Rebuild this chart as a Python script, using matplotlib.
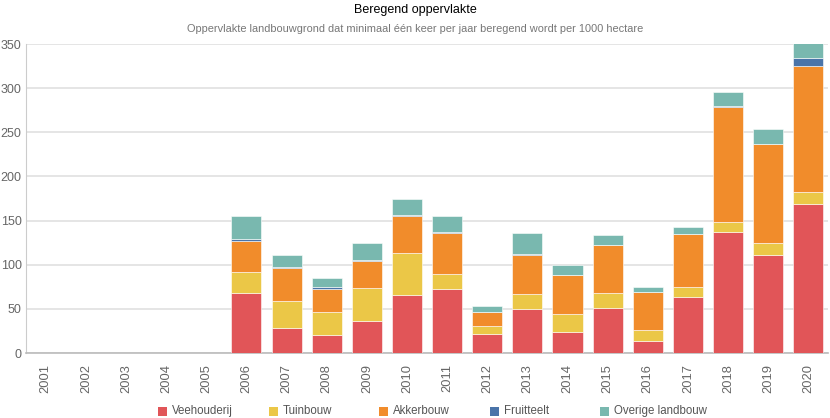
import numpy as np
import matplotlib.pyplot as plt
from matplotlib.patches import Rectangle

# Data (x 1000 ha)
years = [str(y) for y in range(2001, 2021)]
veehouderij = [0, 0, 0, 0, 0, 68, 28, 20, 36, 66, 72.5, 21, 50, 24, 51, 13.6, 64, 137, 111, 168.5]
tuinbouw = [0, 0, 0, 0, 0, 24, 31, 27, 38, 47, 17.5, 10, 17, 20, 17, 12.4, 11, 11, 13.6, 14]
akkerbouw = [0, 0, 0, 0, 0, 35, 37, 26, 30, 42, 46, 15, 44, 44, 54, 42.7, 60, 131, 112, 142.6]
fruitteelt = [0, 0, 0, 0, 0, 2, 1, 1.5, 1.5, 1.5, 1.5, 0.5, 1, 0.5, 0.3, 0.3, 0.3, 0.5, 0.5, 9.5]
overig = [0, 0, 0, 0, 0, 26, 14, 10, 19, 17.5, 18, 7, 23.5, 11.5, 11.6, 6, 7, 16.5, 17, 19.2]

series = [
    ('Veehouderij', veehouderij, '#E15558'),
    ('Tuinbouw', tuinbouw, '#EBC747'),
    ('Akkerbouw', akkerbouw, '#F18C2B'),
    ('Fruitteelt', fruitteelt, '#4A74A9'),
    ('Overige landbouw', overig, '#79B8AF'),
]

plt.rcParams['font.family'] = ['Liberation Sans', 'DejaVu Sans']

W, H = 830, 418
fig = plt.figure(figsize=(W / 100, H / 100), dpi=100)
ax = fig.add_axes([0.031, 0.1555, 0.967, 0.7392])

x = np.arange(len(years))
bottom = np.zeros(len(years))
for name, vals, color in series:
    vals = np.array(vals, dtype=float)
    ax.bar(x, vals, width=0.75, bottom=bottom, color=color,
           edgecolor='#ffffff', linewidth=0.4, zorder=3)
    bottom += vals

ax.set_xlim(-0.5, len(years) - 0.5)
ax.set_ylim(0, 350)
ax.set_yticks(np.arange(0, 351, 50))
ax.yaxis.grid(True, color='#e3e3e3', linewidth=1.3, zorder=0)
ax.set_axisbelow(True)

ax.set_xticks(x)
ax.set_xticklabels(years, rotation=90)
ax.tick_params(axis='x', length=0, pad=8, labelsize=9.3, labelcolor='#666666')
ax.tick_params(axis='y', length=0, pad=3, labelsize=9, labelcolor='#666666')

for side in ['top', 'right']:
    ax.spines[side].set_visible(False)
ax.spines['left'].set_color('#cccccc')
ax.spines['bottom'].set_color('#bbbbbb')
ax.spines['bottom'].set_linewidth(1.2)

# title + subtitle
fig.text(0.5, (H - 9.5) / H, 'Beregend oppervlakte', ha='center', va='center',
         fontsize=9, color='#000000')
fig.text(0.5, (H - 28.5) / H, 'Oppervlakte landbouwgrond dat minimaal één keer per jaar beregend wordt per 1000 hectare',
         ha='center', va='center', fontsize=7.9, color='#777777')

# legend, evenly spaced like the original
leg_x0, leg_step, leg_y, box = 158, 110.5, 411, 9
for i, (name, _, color) in enumerate(series):
    lx = leg_x0 + i * leg_step
    fig.add_artist(Rectangle((lx / W, (H - leg_y - box / 2) / H), box / W, box / H,
                             transform=fig.transFigure, facecolor=color, edgecolor='none'))
    fig.text((lx + 14) / W, (H - leg_y) / H, name, ha='left', va='center',
             fontsize=8.3, color='#555555')

fig.savefig('out.png', dpi=100, facecolor='white')
